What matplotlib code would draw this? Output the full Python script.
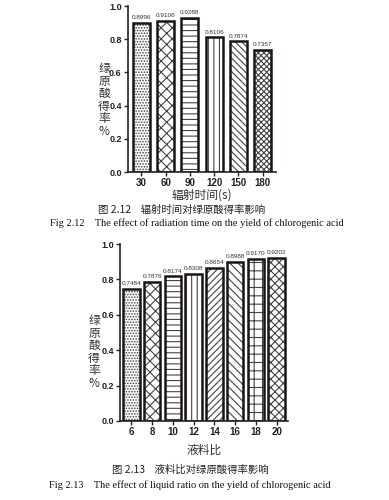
import matplotlib
matplotlib.use("Agg")
import matplotlib.pyplot as plt

# data
time_labels = ["30", "60", "90", "120", "150", "180"]
time_yield = [0.8996, 0.9106, 0.9288, 0.8106, 0.7874, 0.7357]
time_hatches = ["......", "xxx", "---", "|||", "\\\\\\\\\\", "xxxxxx"]

ratio_labels = ["6", "8", "10", "12", "14", "16", "18", "20"]
ratio_yield = [0.7484, 0.7876, 0.8174, 0.8308, 0.8654, 0.8988, 0.9170, 0.9202]
ratio_hatches = ["......", "xxx", "---", "|||", "/////", "\\\\\\\\", "++", "xxxx"]

CJK = ["Noto Sans CJK SC", "DejaVu Sans"]
SERIF = ["Liberation Serif", "DejaVu Serif"]
TICK = ["Liberation Sans Narrow", "Liberation Sans", "DejaVu Sans"]
EDGE = "#1c1414"

plt.rcParams["hatch.linewidth"] = 0.8


def draw_panel(fig, rect, labels, values, hatches, width, xlabel, xlabel_y, ylabel_x, ylabel_y):
    """Draws one hatched bar panel with value labels."""
    ax = fig.add_axes(rect)
    pos = list(range(len(values)))
    for x, v, h in zip(pos, values, hatches):
        ax.bar(x, v, width, color="white", edgecolor="#444444", hatch=h, linewidth=0)
        ax.bar(x, v, width, color="none", edgecolor=EDGE, linewidth=1.8)
        ax.text(x, v + 0.015, f"{v:.4f}", ha="center", va="bottom", fontsize=4.6,
                family=TICK, color="#333333")
    ax.set_xlim(-0.55, len(values) - 0.45)
    ax.set_ylim(0, 1.0)
    ax.set_xticks(pos)
    ax.set_xticklabels(labels, family=TICK, fontsize=7, fontweight="bold")
    ax.set_yticks([0, 0.2, 0.4, 0.6, 0.8, 1.0])
    ax.set_yticklabels([f"{t:.1f}" for t in [0, 0.2, 0.4, 0.6, 0.8, 1.0]],
                       family=TICK, fontsize=6.5, fontweight="bold")
    for side in ["top", "right"]:
        ax.spines[side].set_visible(False)
    for side in ["left", "bottom"]:
        ax.spines[side].set_linewidth(1.2)
        ax.spines[side].set_color("#222222")
    ax.tick_params(length=3, width=1.0, pad=1.5, colors="#222222")
    fig.text(ax.get_position().x0 + ax.get_position().width / 2, xlabel_y, xlabel,
             ha="center", va="center", fontsize=8.5, family=CJK, color="#333333")
    fig.text(ylabel_x, ylabel_y, "绿\n原\n酸\n得\n率\n%", ha="center", va="center",
             fontsize=8.5, family=CJK, color="#333333", linespacing=0.95)
    return ax


fig = plt.figure(figsize=(3.89, 5.0), dpi=100)

draw_panel(fig, [128 / 389, 1 - 172 / 500, 148 / 389, 166 / 500],
           time_labels, time_yield, time_hatches, 0.7, "辐射时间(s)",
           1 - 195 / 500, 104 / 389, 1 - 100 / 500)
fig.text(182 / 389, 1 - 210 / 500, "图 2.12    辐射时间对绿原酸得率影响", ha="center", va="center",
         fontsize=7.5, family=CJK, color="#222222")
fig.text(197 / 389, 1 - 223 / 500,
         "Fig 2.12    The effect of radiation time on the yield of chlorogenic acid",
         ha="center", va="center", fontsize=7.5, family=SERIF, color="#111111")

draw_panel(fig, [120 / 389, 1 - 421 / 500, 168 / 389, 177 / 500],
           ratio_labels, ratio_yield, ratio_hatches, 0.8, "液料比",
           1 - 450 / 500, 94 / 389, 1 - 352 / 500)
fig.text(190 / 389, 1 - 470 / 500, "图 2.13    液料比对绿原酸得率影响", ha="center", va="center",
         fontsize=7.5, family=CJK, color="#222222")
fig.text(190 / 389, 1 - 485 / 500,
         "Fig 2.13    The effect of liquid ratio on the yield of chlorogenic acid",
         ha="center", va="center", fontsize=7.5, family=SERIF, color="#111111")

fig.savefig("out.png", dpi=100)
